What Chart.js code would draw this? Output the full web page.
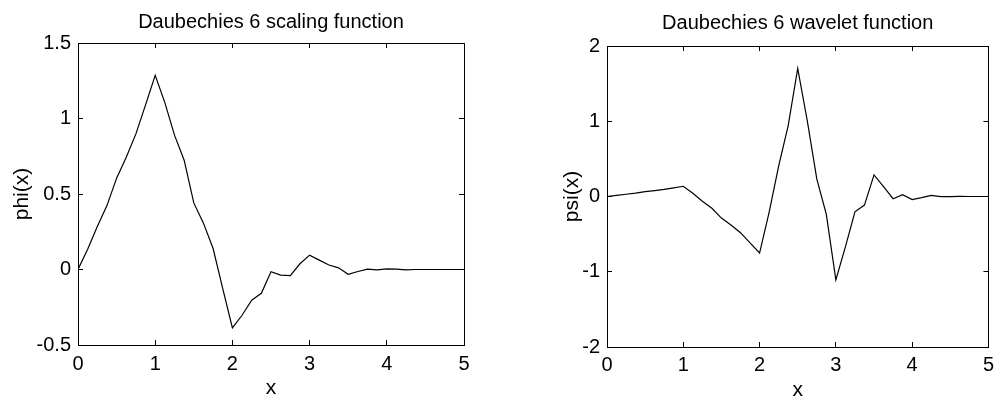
<!DOCTYPE html>
<html>
<head>
<meta charset="utf-8">
<script src="https://cdn.jsdelivr.net/npm/chart.js@4"></script>
<style>
  body { margin: 0; background: #fff; }
  #left { position: absolute; left: 0; top: 0; }
  #right { position: absolute; left: 500px; top: 0; }
</style>
</head>
<body>
<canvas id="left" width="500" height="398"></canvas>
<canvas id="right" width="505" height="398"></canvas>
<script>
// sample points along x (step 1/8)
var xGrid = [0, 0.125, 0.25, 0.375, 0.5, 0.625, 0.75, 0.875,
  1, 1.125, 1.25, 1.375, 1.5, 1.625, 1.75, 1.875,
  2, 2.125, 2.25, 2.375, 2.5, 2.625, 2.75, 2.875,
  3, 3.125, 3.25, 3.375, 3.5, 3.625, 3.75, 3.875,
  4, 4.125, 4.25, 4.375, 4.5, 4.625, 4.75, 4.875, 5];

// scaling function phi(x)
var phiValues = [0, 0.134, 0.285, 0.423, 0.605, 0.744, 0.898, 1.090,
  1.286, 1.105, 0.890, 0.724, 0.441, 0.307, 0.139, -0.126,
  -0.386, -0.303, -0.203, -0.158, -0.015, -0.037, -0.041, 0.038,
  0.095, 0.062, 0.030, 0.011, -0.032, -0.013, 0.003, -0.002,
  0.004, 0.002, -0.002, 0, 0, 0, 0, 0, 0];

// wavelet function psi(x)
var psiValues = [0, 0.014, 0.030, 0.045, 0.064, 0.079, 0.095, 0.115,
  0.136, 0.043, -0.063, -0.157, -0.287, -0.378, -0.481, -0.616,
  -0.751, -0.212, 0.403, 0.942, 1.701, 1.008, 0.234, -0.238,
  -1.108, -0.670, -0.204, -0.114, 0.287, 0.131, -0.029, 0.023,
  -0.040, -0.016, 0.015, -0.001, -0.002, 0.001, 0, 0, 0];

var xTicks = [0, 5, 1];          // min, max, step
var phiTicks = [-0.5, 1.5, 0.5];
var psiTicks = [-2, 2, 1];

var fontFamily = "'Liberation Sans', Arial, Helvetica, sans-serif";

function makePoints(xs, ys) {
    var pts = [];
    for (var i = 0; i < xs.length; i++) {
        pts.push({ x: xs[i], y: ys[i] });
    }
    return pts;
}

// matlab style labels: 1 not 1.0
function plainLabel(value) {
    return String(value);
}

// axis with inward tick marks, like the matlab box
function boxAxis(position, range, extra) {
    var axis = {
        type: "linear",
        position: position,
        min: range[0],
        max: range[1],
        grid: { drawOnChartArea: false, drawTicks: true, tickLength: -5, color: "#000", lineWidth: 1 },
        border: { display: true, color: "#000", width: 1 },
        ticks: { stepSize: range[2], display: false }
    };
    for (var k in extra) axis[k] = extra[k];
    return axis;
}

function drawPanel(id, cfg) {
    var ctx = document.getElementById(id).getContext("2d");
    var tickFont = { family: fontFamily, size: 20 };
    var labelFont = { family: fontFamily, size: 21 };
    return new Chart(ctx, {
        type: "line",
        data: {
            datasets: [{
                data: makePoints(xGrid, cfg.values),
                borderColor: "#000",
                borderWidth: 1.2,
                pointRadius: 0,
                tension: 0,
                fill: false
            }]
        },
        options: {
            responsive: false,
            animation: false,
            events: [],
            layout: { padding: { left: 0, right: cfg.padRight, top: 0, bottom: 0 } },
            plugins: {
                legend: { display: false },
                tooltip: { enabled: false },
                title: {
                    display: true,
                    fullSize: false,
                    text: cfg.title,
                    color: "#000",
                    font: { family: fontFamily, size: 20, weight: "normal" },
                    padding: { top: cfg.titleTop, bottom: cfg.titleBottom }
                }
            },
            scales: {
                x: boxAxis("bottom", xTicks, {
                    ticks: { stepSize: 1, color: "#000", font: tickFont, padding: cfg.xPad, maxRotation: 0, callback: plainLabel },
                    title: { display: true, text: "x", color: "#000", font: labelFont, padding: { top: 0, bottom: cfg.xTitlePad } },
                    afterFit: function (s) { s.height = cfg.xHeight; }
                }),
                y: boxAxis("left", cfg.yRange, {
                    ticks: { stepSize: cfg.yRange[2], color: "#000", font: tickFont, padding: cfg.yPad, callback: plainLabel },
                    title: { display: true, text: cfg.yLabel, color: "#000", font: labelFont, padding: { top: cfg.yTitlePad, bottom: 0 } },
                    afterFit: function (s) { s.width = cfg.yWidth; }
                }),
                x2: boxAxis("top", xTicks, {
                    afterFit: function (s) { s.height = 0; }
                }),
                y2: boxAxis("right", cfg.yRange, {
                    afterFit: function (s) { s.width = 0; }
                })
            }
        }
    });
}

drawPanel("left", {
    values: phiValues,
    title: "Daubechies 6 scaling function",
    yLabel: "phi(x)",
    yRange: phiTicks,
    padRight: 36,
    titleTop: 10, titleBottom: 9,
    xHeight: 53, xPad: 12, xTitlePad: -3,
    yWidth: 78, yPad: 12, yTitlePad: 10
});

drawPanel("right", {
    values: psiValues,
    title: "Daubechies 6 wavelet function",
    yLabel: "psi(x)",
    yRange: psiTicks,
    padRight: 7,
    titleTop: 11, titleBottom: 11,
    xHeight: 51, xPad: 11, xTitlePad: -5,
    yWidth: 107, yPad: 12, yTitlePad: 60
});
</script>
</body>
</html>
